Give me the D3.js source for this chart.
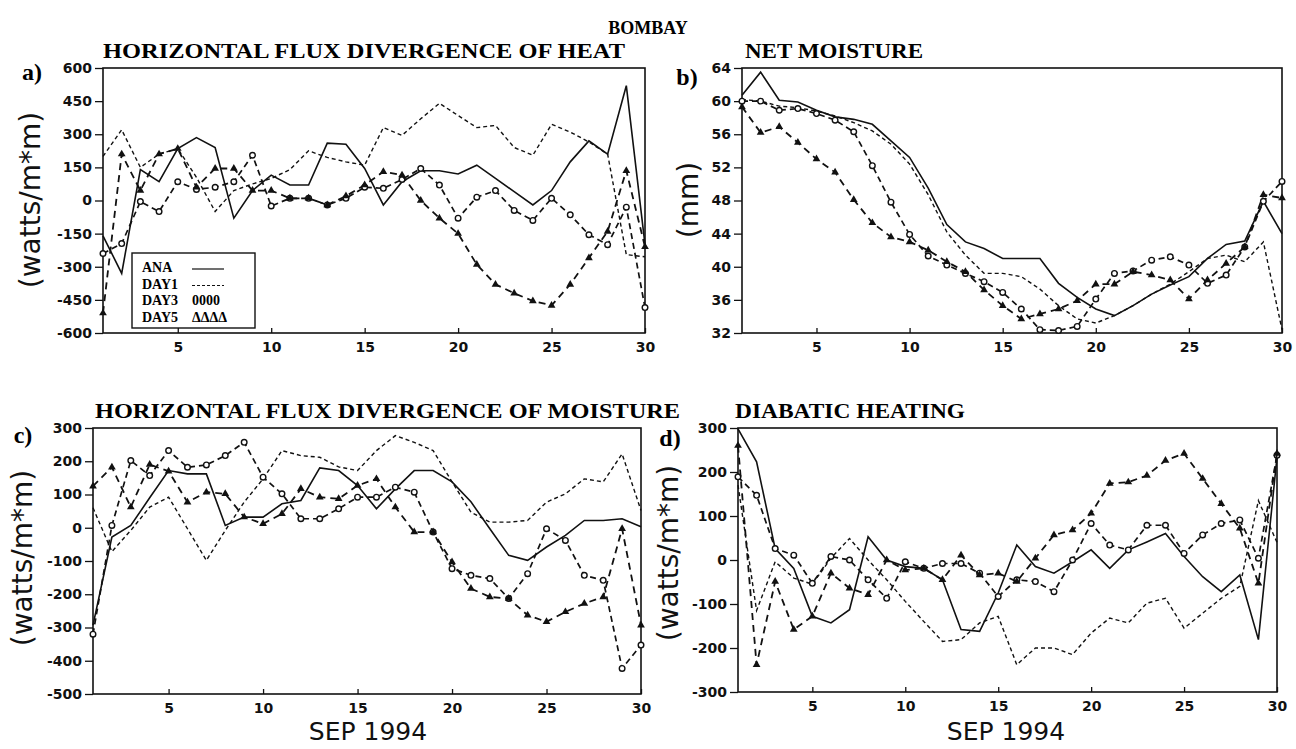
<!DOCTYPE html>
<html>
<head>
<meta charset="utf-8">
<title>BOMBAY</title>
<script src="https://cdn.jsdelivr.net/npm/d3@7/dist/d3.min.js"></script>
<style>
  body { margin: 0; background: #fff; }
  svg { display: block; }
  .serif { font-family: "Liberation Serif", "Times New Roman", serif; font-weight: bold; }
  .sans { font-family: "DejaVu Sans", sans-serif; }
  .tick text { font-family: "DejaVu Sans", sans-serif; font-weight: bold; font-size: 14px; fill: #111; }
  .tick line { stroke: #111; stroke-width: 1.3; }
</style>
</head>
<body>
<svg id="chart" width="1296" height="749"></svg>
<script>
// Days of September 1994
const days = [1, 2, 3, 4, 5, 6, 7, 8, 9, 10, 11, 12, 13, 14, 15,
              16, 17, 18, 19, 20, 21, 22, 23, 24, 25, 26, 27, 28, 29, 30];
const dayTicks = [5, 10, 15, 20, 25, 30];

// a) horizontal flux divergence of heat (watts/m*m)
const aANA  = [-160, -330, 140, 85, 235, 285, 240, -80, 45, 115, 70, 70, 260, 255, 145,
               -20, 85, 135, 135, 120, 160, 100, 40, -20, 45, 175, 270, 210, 520, -200];
const aDAY1 = [200, 320, 150, 210, 235, 105, -50, 45, 75, 100, 140, 225, 195, 175, 160,
               330, 295, 370, 440, 385, 330, 340, 240, 205, 345, 310, 265, 210, -245, -255];
const aDAY3 = [-240, -195, -5, -50, 85, 50, 60, 85, 205, -25, 10, 10, -20, 10, 60,
               55, 95, 145, 70, -80, 15, 45, -45, -90, 10, -65, -155, -200, -30, -485];
const aDAY5 = [-510, 210, 45, 210, 235, 60, 145, 145, 45, 45, 10, 10, -20, 20, 70,
               130, 115, 0, -80, -150, -290, -380, -420, -455, -475, -380, -260, -140, 135, -210];
const aTicks = [600, 450, 300, 150, 0, -150, -300, -450, -600];

// b) net moisture (mm)
const bANA  = [60.7, 63.5, 60.1, 59.9, 58.9, 58.1, 57.8, 57.2, 55.2, 53.2, 49.5, 45.1, 43.0, 42.2, 41.0,
               41.0, 41.0, 38.0, 36.3, 34.9, 34.1, 35.3, 36.7, 37.8, 38.8, 41.0, 42.7, 43.1, 47.9, 44.0];
const bDAY1 = [60.2, 60.0, 59.4, 59.2, 58.8, 58.2, 57.4, 56.4, 54.8, 52.4, 48.7, 44.2, 41.4, 39.2, 39.2,
               38.8, 37.3, 35.3, 33.7, 33.2, 34.1, 35.3, 36.7, 37.9, 39.4, 41.0, 41.4, 40.6, 43.0, 32.4];
const bDAY3 = [60.0, 60.0, 58.9, 59.1, 58.5, 57.7, 56.3, 52.2, 47.8, 43.9, 41.3, 40.2, 39.2, 38.2, 36.9,
               34.9, 32.4, 32.3, 32.8, 36.1, 39.2, 39.5, 40.8, 41.2, 40.2, 38.0, 39.0, 42.4, 47.9, 50.3];
const bDAY5 = [59.3, 56.2, 56.9, 55.0, 53.0, 51.4, 48.1, 45.3, 43.6, 43.0, 42.0, 40.6, 39.4, 37.2, 35.3,
               33.7, 34.3, 34.9, 35.9, 37.9, 37.9, 39.4, 39.0, 38.4, 36.1, 38.4, 40.4, 42.4, 48.7, 48.3];
const bTicks = [64, 60, 56, 52, 48, 44, 40, 36, 32];

// c) horizontal flux divergence of moisture (watts/m*m)
const cANA  = [-293, -28, 7, 90, 172, 162, 162, 7, 32, 32, 72, 82, 180, 172, 127,
               57, 117, 172, 172, 138, 78, -3, -83, -98, -58, -23, 22, 22, 27, 3];
const cDAY1 = [60, -72, -8, 62, 92, -3, -98, -8, 77, 147, 232, 217, 212, 183, 172,
               232, 277, 257, 232, 138, 47, 17, 17, 22, 77, 102, 147, 138, 222, 52];
const cDAY3 = [-320, 7, 202, 157, 232, 182, 189, 217, 257, 152, 102, 27, 27, 57, 92,
               92, 122, 107, -13, -123, -143, -153, -213, -138, -3, -38, -143, -158, -423, -353];
const cDAY5 = [125, 182, 62, 190, 170, 77, 107, 102, 32, 12, 42, 117, 92, 87, 127,
               147, 62, -13, -13, -103, -183, -208, -213, -263, -283, -253, -228, -208, -3, -293];
const cTicks = [300, 200, 100, 0, -100, -200, -300, -400, -500];

// d) diabatic heating (watts/m*m)
const dANA  = [298, 223, 26, -19, -128, -143, -113, 53, 0, -15, -19, -45, -158, -162, -75,
               34, -15, -30, -4, 23, -19, 23, 41, 60, 8, -38, -72, -34, -181, 234];
const dDAY1 = [170, -115, -4, -41, -55, 4, 49, 0, -45, -94, -140, -185, -181, -143, -128,
               -238, -200, -200, -215, -166, -132, -143, -98, -87, -155, -121, -87, -60, 135, 40];
const dDAY3 = [189, 147, 26, 11, -53, 8, 0, -45, -87, -4, -19, -8, -8, -30, -83,
               -45, -49, -72, 0, 83, 34, 23, 79, 79, 15, 57, 83, 91, 4, 238];
const dDAY5 = [260, -238, -49, -158, -128, -30, -64, -79, 0, -23, -19, -45, 11, -34, -30,
               -49, 4, 57, 68, 106, 174, 177, 192, 226, 242, 185, 128, 72, -53, 242];
const dTicks = [300, 200, 100, 0, -100, -200, -300];

const seriesNames = ['ANA', 'DAY1', 'DAY3', 'DAY5'];

// line look per run
const styles = {
  ANA:  { dash: null,  width: 1.6, marker: null },
  DAY1: { dash: '4,3', width: 1.4, marker: null },
  DAY3: { dash: '6,4', width: 1.7, marker: 'circle' },
  DAY5: { dash: '7,5', width: 1.8, marker: 'triangle' }
};

// panel layout
const panels = [
  { letter: 'a)', lx: 32, ly: 80, title: 'HORIZONTAL FLUX DIVERGENCE OF HEAT', tx: 103, ty: 58, tlen: 522,
    x0: 103, x1: 645, y0: 68, y1: 333, ticks: aTicks, yTitle: '(watts/m*m)', yx: 30, yy: 200,
    data: [aANA, aDAY1, aDAY3, aDAY5], legend: true, xTitle: null },
  { letter: 'b)', lx: 687, ly: 85, title: 'NET MOISTURE', tx: 745, ty: 58, tlen: 178,
    x0: 742, x1: 1282, y0: 68, y1: 333, ticks: bTicks, yTitle: '(mm)', yx: 688, yy: 200,
    data: [bANA, bDAY1, bDAY3, bDAY5], legend: false, xTitle: null },
  { letter: 'c)', lx: 23, ly: 443, title: 'HORIZONTAL FLUX DIVERGENCE OF MOISTURE', tx: 95, ty: 418, tlen: 585,
    x0: 93, x1: 641, y0: 428, y1: 694, ticks: cTicks, yTitle: '(watts/m*m)', yx: 22, yy: 558,
    data: [cANA, cDAY1, cDAY3, cDAY5], legend: false, xTitle: 368 },
  { letter: 'd)', lx: 670, ly: 446, title: 'DIABATIC HEATING', tx: 735, ty: 418, tlen: 230,
    x0: 738, x1: 1277, y0: 428, y1: 692, ticks: dTicks, yTitle: '(watts/m*m)', yx: 668, yy: 553,
    data: [dANA, dDAY1, dDAY3, dDAY5], legend: false, xTitle: 1006 }
];

const svg = d3.select('#chart');

svg.append('text')
  .attr('class', 'serif')
  .attr('x', 648).attr('y', 34)
  .attr('text-anchor', 'middle')
  .attr('font-size', 18)
  .text('BOMBAY');

function drawPanel(p) {
  const g = svg.append('g');
  const x = d3.scaleLinear().domain([1, 30]).range([p.x0, p.x1]);
  const y = d3.scaleLinear().domain(d3.extent(p.ticks)).range([p.y1, p.y0]);

  // frame
  g.append('rect')
    .attr('x', p.x0).attr('y', p.y0)
    .attr('width', p.x1 - p.x0).attr('height', p.y1 - p.y0)
    .attr('fill', 'none').attr('stroke', '#111').attr('stroke-width', 1.6);

  // axes
  const yAxis = d3.axisLeft(y).tickValues(p.ticks).tickSize(8).tickPadding(3)
    .tickFormat(d => String(d));
  g.append('g').attr('transform', `translate(${p.x0},0)`).call(yAxis)
    .call(s => s.select('.domain').remove());

  const xAxis = d3.axisBottom(x).tickValues(dayTicks).tickSize(-5).tickPadding(9)
    .tickFormat(d => String(d));
  g.append('g').attr('transform', `translate(0,${p.y1})`).call(xAxis)
    .call(s => s.select('.domain').remove());

  // lines
  const line = d3.line().x((d, i) => x(days[i])).y(d => y(d));
  p.data.forEach((vals, k) => {
    const st = styles[seriesNames[k]];
    g.append('path')
      .datum(vals)
      .attr('fill', 'none')
      .attr('stroke', '#111')
      .attr('stroke-width', st.width)
      .attr('stroke-dasharray', st.dash)
      .attr('d', line);
    if (st.marker === 'circle') {
      g.selectAll(null).data(vals).enter().append('circle')
        .attr('cx', (d, i) => x(days[i])).attr('cy', d => y(d))
        .attr('r', 2.8).attr('fill', '#fff').attr('stroke', '#111').attr('stroke-width', 1.4);
    } else if (st.marker === 'triangle') {
      const tri = d3.symbol().type(d3.symbolTriangle).size(26);
      g.selectAll(null).data(vals).enter().append('path')
        .attr('transform', (d, i) => `translate(${x(days[i])},${y(d)})`)
        .attr('d', tri).attr('fill', '#111');
    }
  });

  // labels
  g.append('text').attr('class', 'serif')
    .attr('x', p.lx).attr('y', p.ly).attr('text-anchor', 'middle')
    .attr('font-size', 24).text(p.letter);
  g.append('text').attr('class', 'serif')
    .attr('x', p.tx).attr('y', p.ty).attr('font-size', 21)
    .attr('textLength', p.tlen).attr('lengthAdjust', 'spacingAndGlyphs')
    .text(p.title);
  g.append('text').attr('class', 'sans')
    .attr('transform', `translate(${p.yx},${p.yy}) rotate(-90)`)
    .attr('text-anchor', 'middle').attr('dy', '0.35em')
    .attr('font-size', 28).attr('fill', '#111')
    .text(p.yTitle);
  if (p.xTitle !== null) {
    g.append('text').attr('class', 'sans')
      .attr('x', p.xTitle).attr('y', 740)
      .attr('text-anchor', 'middle').attr('font-size', 25).attr('fill', '#111')
      .text('SEP 1994');
  }

  if (p.legend) {
    const lg = g.append('g');
    lg.append('rect').attr('x', 132).attr('y', 253).attr('width', 123).attr('height', 75)
      .attr('fill', '#fff').attr('stroke', '#111').attr('stroke-width', 1.4);
    const rows = [
      { name: 'ANA', sample: 'line', dash: null },
      { name: 'DAY1', sample: 'line', dash: '3,2' },
      { name: 'DAY3', sample: '0000' },
      { name: 'DAY5', sample: '\u0394\u0394\u0394\u0394' }
    ];
    rows.forEach((r, i) => {
      const by = 272 + i * 16.5;
      lg.append('text').attr('class', 'serif').attr('x', 142).attr('y', by)
        .attr('font-size', 14).text(r.name);
      if (r.sample === 'line') {
        lg.append('line').attr('x1', 192).attr('x2', 224).attr('y1', by - 3).attr('y2', by - 3)
          .attr('stroke', '#111').attr('stroke-width', 1.2).attr('stroke-dasharray', r.dash);
      } else {
        lg.append('text').attr('class', 'serif').attr('x', 192).attr('y', by)
          .attr('font-size', 14).text(r.sample);
      }
    });
  }
}

panels.forEach(drawPanel);
</script>
</body>
</html>
